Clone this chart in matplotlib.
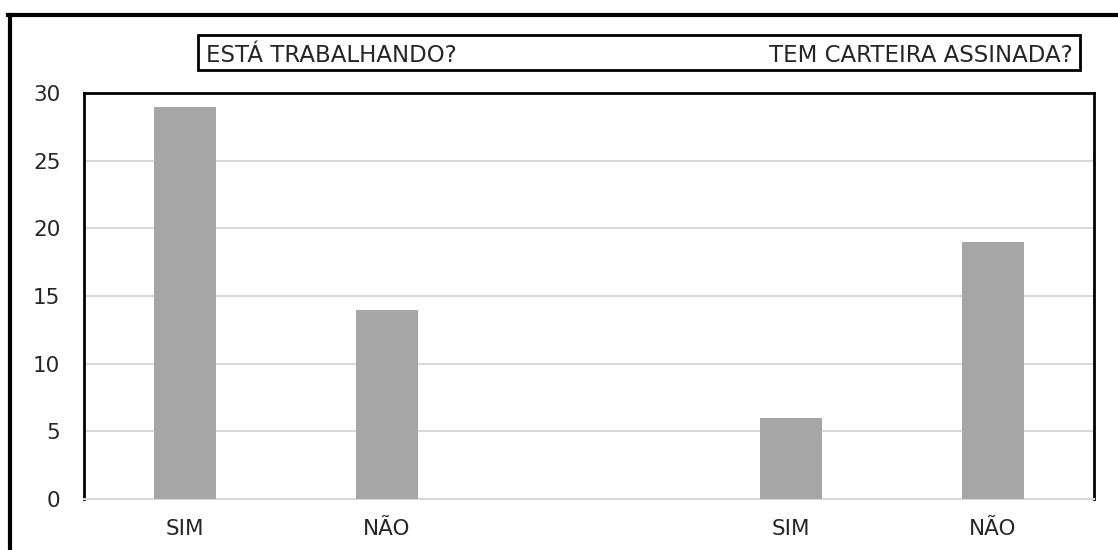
import numpy as np
import matplotlib
matplotlib.use("Agg")
import matplotlib.pyplot as plt
from matplotlib.patches import Rectangle
from matplotlib.lines import Line2D

categories = ["SIM", "NÃO", "", "SIM", "NÃO"]
values = [29, 14, np.nan, 6, 19]
yticks = [0, 5, 10, 15, 20, 25, 30]
title_left = "ESTÁ TRABALHANDO?"
title_right = "TEM CARTEIRA ASSINADA?"

plt.rcParams['font.family'] = ['DejaVu Sans']

W, H = 1118, 550
fig = plt.figure(figsize=(W / 100, H / 100), dpi=100)
fig.patch.set_facecolor('white')

def fx(px):
    return px / W

def fy(py):
    return 1 - py / H

FS = 15.5
FS_T = 16.5
TXT = '#262626'

ax = fig.add_axes([fx(84), fy(499), fx(1094) - fx(84), fy(93) - fy(499)])
x = np.arange(len(categories))
ax.bar(x, values, width=0.31, color='#a6a6a6', zorder=3)
ax.set_xlim(-0.5, len(categories) - 0.5)
ax.set_ylim(0, 30)
ax.set_yticks(yticks)
ax.set_yticklabels([str(t) for t in yticks], fontsize=FS, color=TXT)
ax.set_xticks(x)
ax.set_xticklabels(categories, fontsize=FS, color=TXT)
ax.tick_params(axis='both', length=0)
ax.tick_params(axis='y', pad=17)
ax.tick_params(axis='x', pad=14.5)
ax.grid(axis='y', color='#d9d9d9', linewidth=1.5, zorder=0)
ax.set_axisbelow(True)
for side in ['left', 'top', 'right']:
    ax.spines[side].set_color('black')
    ax.spines[side].set_linewidth(2.0)
ax.spines['bottom'].set_color('#d9d9d9')
ax.spines['bottom'].set_linewidth(1.5)

# Outer frame (top and left lines)
fig.add_artist(Line2D([fx(8), 1.0], [fy(15), fy(15)], color='black', linewidth=3.0))
fig.add_artist(Line2D([fx(9.5), fx(9.5)], [0, fy(15)], color='black', linewidth=3.0))

# Title box
fig.add_artist(Rectangle((fx(198), fy(70)), fx(1080) - fx(198), fy(35) - fy(70),
                         transform=fig.transFigure, fill=False,
                         edgecolor='black', linewidth=2.0))
fig.text(fx(206), fy(62), title_left, fontsize=FS_T, ha='left', va='baseline', color=TXT)
fig.text(fx(1073), fy(62), title_right, fontsize=FS_T, ha='right', va='baseline', color=TXT)

fig.savefig('out.png', dpi=100, facecolor='white')
